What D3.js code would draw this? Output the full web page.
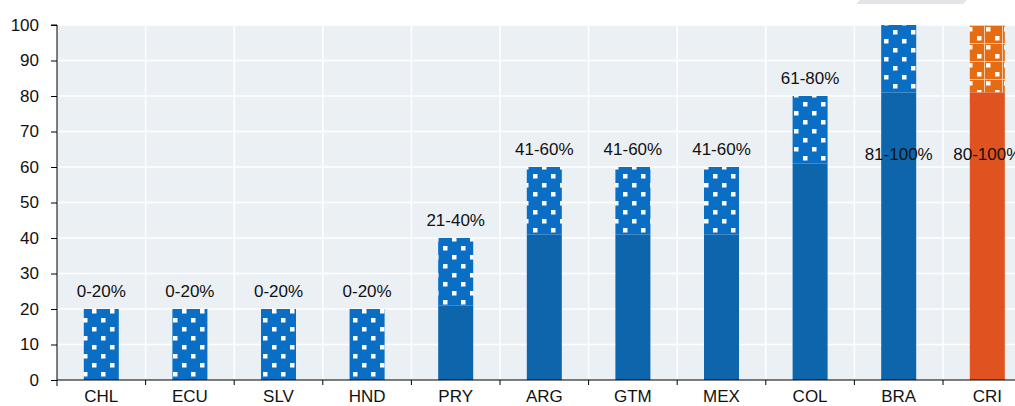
<!DOCTYPE html>
<html>
<head>
<meta charset="utf-8">
<script src="https://cdn.jsdelivr.net/npm/d3@7"></script>
<style>
  body { margin: 0; background: #fff; }
  svg { display: block; font-family: "Liberation Sans", Arial, sans-serif; }
</style>
</head>
<body>
<svg width="1015" height="406"></svg>
<script>
// data
var countries = ['CHL', 'ECU', 'SLV', 'HND', 'PRY', 'ARG', 'GTM', 'MEX', 'COL', 'BRA', 'CRI'];
var solidPart = [0, 0, 0, 0, 21, 41, 41, 41, 61, 81, 81];
var rangeTop  = [20, 20, 20, 20, 40, 60, 60, 60, 80, 100, 100];
var rangeLabels = ['0-20%', '0-20%', '0-20%', '0-20%', '21-40%', '41-60%', '41-60%', '41-60%', '61-80%', '81-100%', '80-100%'];
var yTicks = [0, 10, 20, 30, 40, 50, 60, 70, 80, 90, 100];

var rows = countries.map(function(c, i) {
  return { c: c, solid: solidPart[i], top: rangeTop[i], label: rangeLabels[i], hl: c === 'CRI' };
});

var svg = d3.select('svg');
var left = 57, plotTop = 25, bottom = 380, bandW = 88.6;

var x = d3.scaleBand()
  .domain(countries)
  .range([left, left + bandW * countries.length]);
var y = d3.scaleLinear().domain([0, 100]).range([bottom, plotTop]);

var defs = svg.append('defs');
// blue dotted pattern
var pb = defs.append('pattern')
  .attr('id', 'dotBlue')
  .attr('patternUnits', 'userSpaceOnUse')
  .attr('width', 18).attr('height', 18)
  .attr('x', 0).attr('y', 1);
pb.append('rect').attr('width', 18).attr('height', 18).attr('fill', '#0a6fc4');
pb.append('rect').attr('x', 2).attr('y', 2).attr('width', 4.5).attr('height', 4.5).attr('fill', '#fff');
pb.append('rect').attr('x', 11).attr('y', 11).attr('width', 4.5).attr('height', 4.5).attr('fill', '#fff');

// orange pattern
var po = defs.append('pattern')
  .attr('id', 'dotOrange')
  .attr('patternUnits', 'userSpaceOnUse')
  .attr('width', 18).attr('height', 18)
  .attr('x', 966).attr('y', 25);
po.append('rect').attr('width', 18).attr('height', 18).attr('fill', '#e56c12');
po.append('rect').attr('width', 18).attr('height', 1).attr('fill', '#f6c9a3');
po.append('rect').attr('width', 1).attr('height', 18).attr('fill', '#f6c9a3');
po.append('rect').attr('x', 2).attr('y', 2).attr('width', 4.5).attr('height', 4.5).attr('fill', '#fff');
po.append('rect').attr('x', 11).attr('y', 11).attr('width', 4.5).attr('height', 4.5).attr('fill', '#fff');

// grey tab at the top
svg.append('path')
  .attr('d', 'M860,0 L967,0 L963,4 L856,4 Z')
  .attr('fill', '#e3e5e8');

// plot background
svg.append('rect')
  .attr('x', left).attr('y', plotTop)
  .attr('width', 1015 - left).attr('height', bottom - plotTop)
  .attr('fill', '#ebf0f5');

// horizontal grid
svg.selectAll('.hgrid')
  .data(yTicks.slice(1))
  .enter().append('line')
  .attr('x1', left).attr('x2', 1015)
  .attr('y1', function(d) { return y(d); })
  .attr('y2', function(d) { return y(d); })
  .attr('stroke', '#fff').attr('stroke-width', 1.5);

// vertical grid at band boundaries
svg.selectAll('.vgrid')
  .data(countries.slice(1))
  .enter().append('line')
  .attr('x1', function(d) { return x(d); })
  .attr('x2', function(d) { return x(d); })
  .attr('y1', plotTop).attr('y2', bottom)
  .attr('stroke', '#fff').attr('stroke-width', 1.5);

var barW = 35;
var bars = svg.selectAll('.bar').data(rows).enter().append('g');

bars.append('rect')
  .attr('x', function(d) { return x(d.c) + x.bandwidth() / 2 - barW / 2; })
  .attr('y', function(d) { return y(d.top); })
  .attr('width', barW)
  .attr('height', function(d) { return y(d.solid) - y(d.top); })
  .attr('fill', function(d) { return d.hl ? 'url(#dotOrange)' : 'url(#dotBlue)'; });

bars.filter(function(d) { return d.solid > 0; })
  .append('rect')
  .attr('x', function(d) { return x(d.c) + x.bandwidth() / 2 - barW / 2; })
  .attr('y', function(d) { return y(d.solid); })
  .attr('width', barW)
  .attr('height', function(d) { return y(0) - y(d.solid); })
  .attr('fill', function(d) { return d.hl ? '#e05320' : '#0d66ab'; });

bars.append('text')
  .attr('x', function(d) { return x(d.c) + x.bandwidth() / 2; })
  .attr('y', function(d) { return d.top >= 100 ? y(64) + 7 : y(d.top) - 12; })
  .attr('text-anchor', 'middle')
  .attr('font-size', 17)
  .attr('fill', '#111')
  .text(function(d) { return d.label; });

// y axis
var yAxis = svg.append('g')
  .attr('transform', 'translate(' + left + ',0)')
  .call(d3.axisLeft(y).tickValues(yTicks).tickSize(6).tickPadding(12));
yAxis.select('.domain').attr('d', 'M-6,' + plotTop + 'H0V' + (bottom + 6)).attr('stroke', '#000');
yAxis.selectAll('text').attr('font-size', 17).attr('fill', '#111').attr('font-family', 'Liberation Sans, Arial, sans-serif');

// x axis
svg.append('line')
  .attr('x1', left).attr('x2', 1015)
  .attr('y1', bottom).attr('y2', bottom)
  .attr('stroke', '#000').attr('stroke-width', 1.2);

svg.selectAll('.xtick')
  .data(countries.slice(1))
  .enter().append('line')
  .attr('x1', function(d) { return x(d); })
  .attr('x2', function(d) { return x(d); })
  .attr('y1', bottom).attr('y2', bottom + 5)
  .attr('stroke', '#000');

svg.selectAll('.xlab')
  .data(countries)
  .enter().append('text')
  .attr('x', function(d) { return x(d) + x.bandwidth() / 2; })
  .attr('y', 402)
  .attr('text-anchor', 'middle')
  .attr('font-size', 17)
  .attr('fill', '#111')
  .text(function(d) { return d; });
</script>
</body>
</html>
